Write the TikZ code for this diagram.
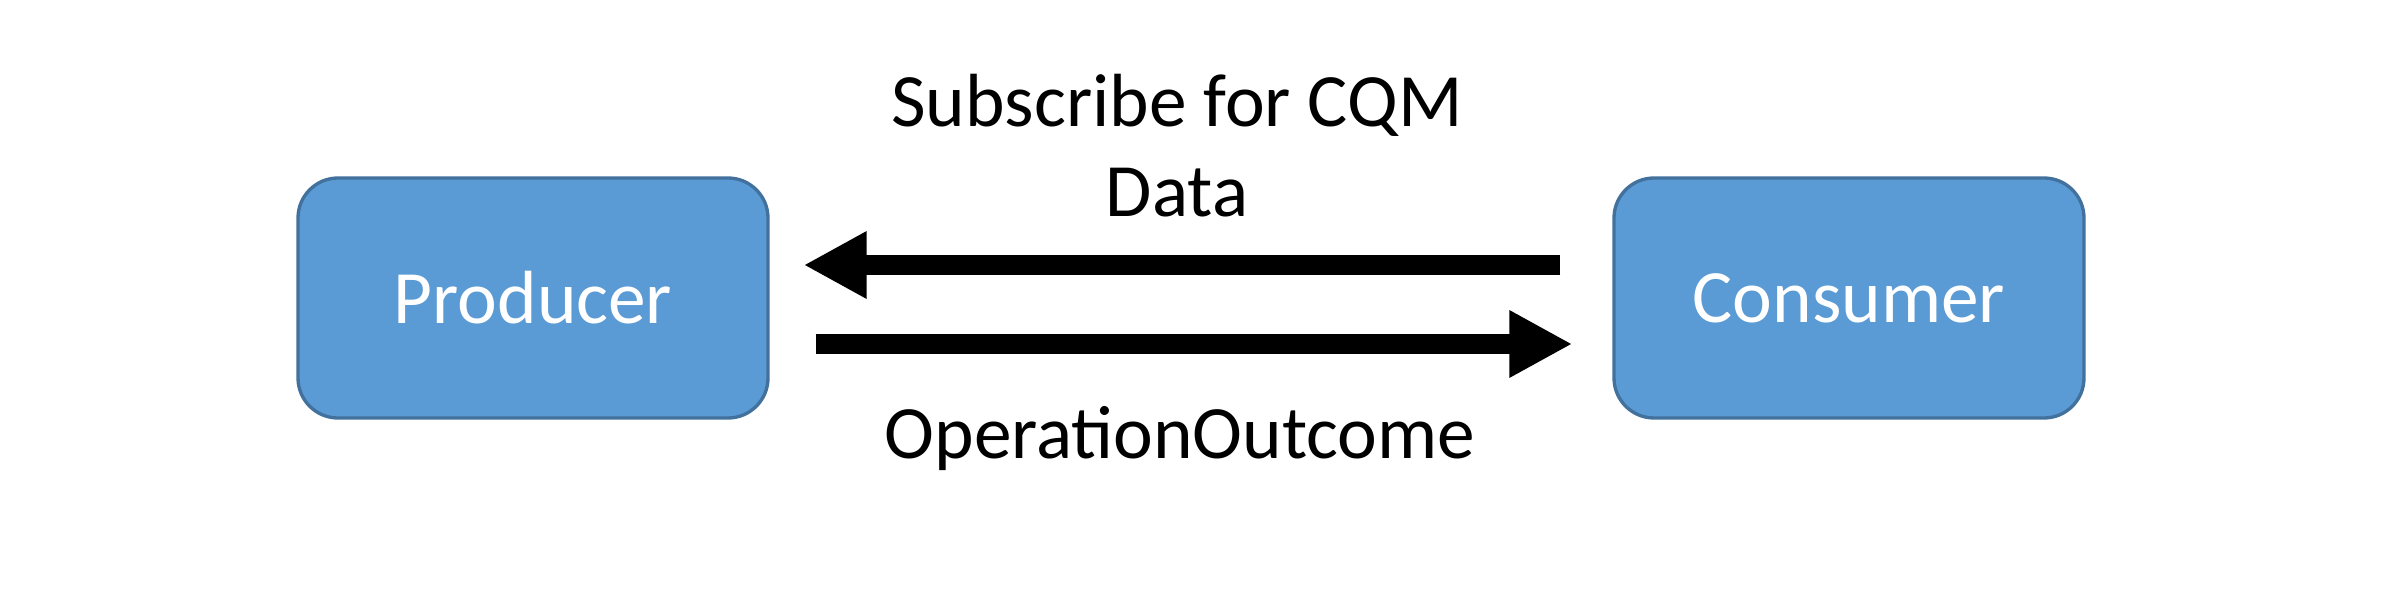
\documentclass[tikz,border=0pt]{standalone}
\usepackage{fontspec}
\setmainfont{Carlito}
\usetikzlibrary{arrows.meta,calc}
\definecolor{boxfill}{HTML}{5B9BD5}
\definecolor{boxline}{HTML}{41719C}
\tikzset{
  actor/.style={draw=boxline, fill=boxfill, line width=1pt, rounded corners=12pt,
    minimum width=141pt, minimum height=72pt, inner sep=0pt, text=white,
    font=\fontsize{22.6}{27}\selectfont},
  fat/.style={line width=6pt, -{Triangle[length=18.9pt,width=18.9pt]}},
  lbl/.style={inner sep=0pt, align=center, font=\fontsize{22.6}{27}\selectfont}
}
\begin{document}
\begin{tikzpicture}[x=0.3pt,y=-0.3pt]
\useasboundingbox (0,0) rectangle (2400,598);
\node[actor] (prod) at (533,298) {Producer};
\node[actor] (cons) at (1849,298) {Consumer};
\draw[fat] ($(cons.west)+(-52,-33)$) -- ($(prod.east)+(34,-33)$);
\draw[fat] ($(prod.east)+(46,46)$) -- ($(cons.west)+(-40,46)$);
\node[lbl] (sub) at (1177,146) {Subscribe for CQM\\Data};
\node[lbl] (oo) at (1180,439) {OperationOutcome};
\end{tikzpicture}
\end{document}
